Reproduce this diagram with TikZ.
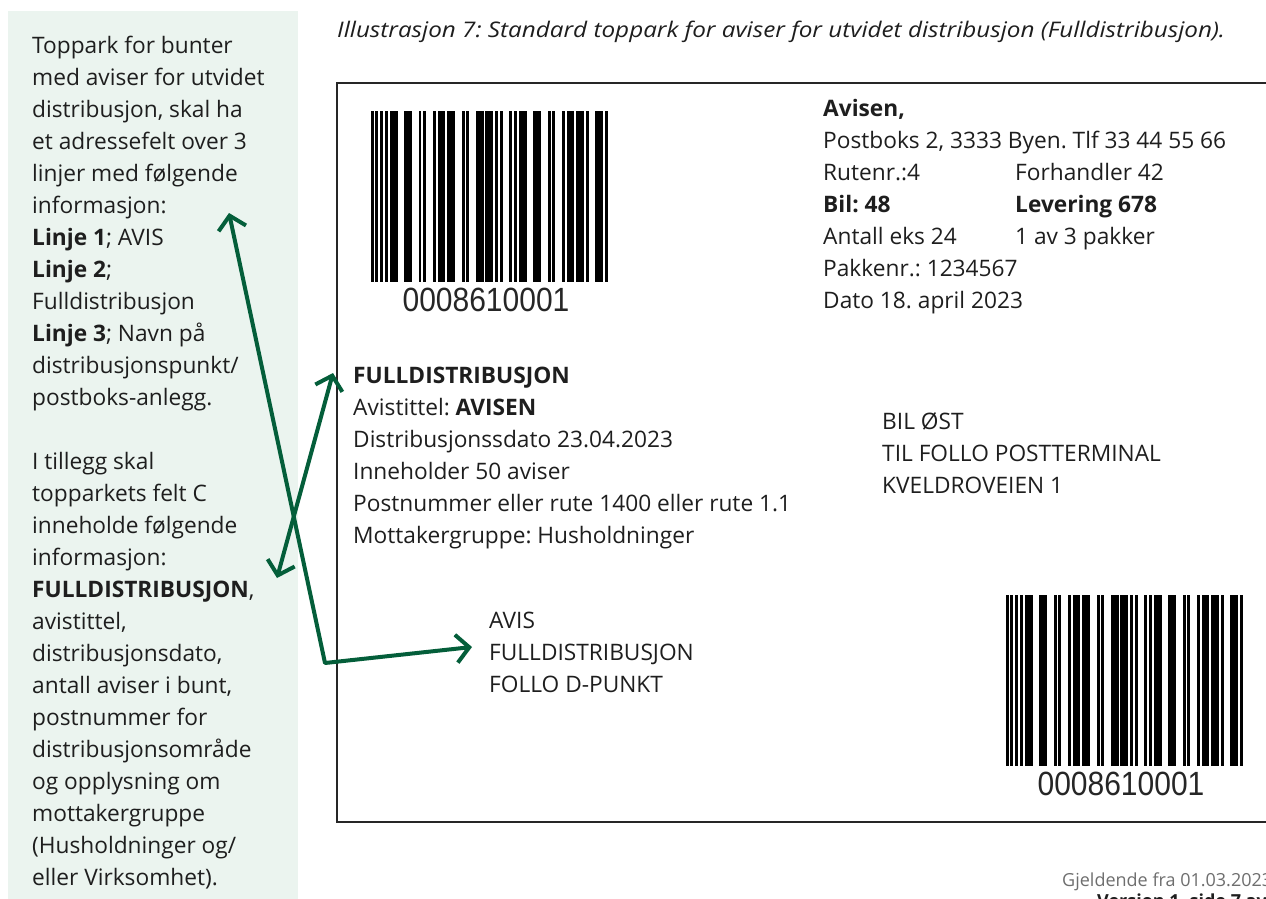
\documentclass[tikz,border=0pt]{standalone}
\usepackage{fontspec}
\setmainfont{Open Sans}
\newfontfamily\bcfont{Liberation Sans}
\usetikzlibrary{arrows.meta}
\definecolor{panelbg}{RGB}{235,244,239}
\definecolor{arrgreen}{RGB}{4,94,58}
\definecolor{ink}{RGB}{30,30,30}
\definecolor{footgray}{RGB}{110,110,110}
\newdimen\bcx
\newdimen\bcm
\bcm=2.39pt
\newlength\capw
% Interleaved 2 of 5 pattern for 0008610001 (bar, space, bar, ...)
\newcommand{\bcpattern}{1,1,1,1, 1,1,1,1,3,3,3,3,1,1, 1,3,1,1,3,1,3,3,1,1, 1,3,3,1,3,1,1,1,1,3, 1,1,1,1,3,3,3,3,1,1, 1,3,1,1,3,1,3,1,1,3, 3,1,1}
\newcommand{\drawbarcode}[3]{%
  \global\bcx=0pt
  \foreach \w [count=\i] in \bcpattern {%
    \ifodd\i
      \fill[black, xshift=\the\bcx] (#1-0.3,#2) rectangle ++(\w*2.39+0.6,#3);
    \fi
    \global\advance\bcx by \w\bcm
  }}
\tikzset{
  txt/.style={anchor=base west, inner sep=0pt, text=ink, font=\fontsize{22.7}{32}\selectfont},
  conn/.style={draw=arrgreen, line width=4pt, line join=round,
    {Straight Barb[length=13pt,width=28pt]}-{Straight Barb[length=13pt,width=28pt]}},
  digits/.style={inner sep=0pt, text=black!85, font=\bcfont\fontsize{30}{30}\selectfont},
}
\begin{document}
\frenchspacing
\settowidth\capw{\itshape\fontsize{21.5}{26}\selectfont Illustrasjon 7: Standard toppark for aviser for utvidet distribusjon (Fulldistribusjon).}
\pgfmathsetmacro\capsx{888/\capw}
\begin{tikzpicture}[x=1pt,y=-1pt]
\useasboundingbox (0,0) rectangle (1266,899);
\clip (0,0) rectangle (1266,899);
% left panel
\fill[panelbg] (8,11) rectangle (298,905);
\foreach \t [count=\i] in {Toppark for bunter, med aviser for utvidet, {distribusjon, skal ha}, et adressefelt over 3, linjer med følgende, informasjon:, {\textbf{Linje 1}; AVIS}, {\textbf{Linje 2};}, Fulldistribusjon, {\textbf{Linje 3}; Navn på}, distribusjonspunkt/, postboks-anlegg.}
  \node[txt] (P\i) at (32,{53+(\i-1)*32}) {\t};
\foreach \t [count=\i] in {I tillegg skal, topparkets felt C, inneholde følgende, informasjon:, {\textbf{FULLDISTRIBUSJON},}, {avistittel,}, {distribusjonsdato,}, {antall aviser i bunt,}, postnummer for, distribusjonsområde, og opplysning om, mottakergruppe, {(Husholdninger og/}, {eller Virksomhet).}}
  \node[txt] (Q\i) at (32,{469+(\i-1)*32}) {\t};
% caption
\node[anchor=base west, inner sep=0pt, text=ink] (cap) at (337,38)
  {\scalebox{\capsx}[1]{\itshape\fontsize{21.5}{26}\selectfont Illustrasjon 7: Standard toppark for aviser for utvidet distribusjon (Fulldistribusjon).}};
% label frame
\draw[line width=2pt, draw=black!85] (1275,83) -- (337,83) -- (337,822) -- (1275,822);
% barcodes
\drawbarcode{371}{111}{171}
\node[digits] (bc1) at (486,300) {\scalebox{1}[1.12]{0008610001}};
\drawbarcode{1006}{595}{171}
\node[digits] (bc2) at (1121,784) {\scalebox{1}[1.12]{0008610001}};
% sender block
\foreach \t [count=\i] in {{\textbf{Avisen,}}, {Postboks 2, 3333 Byen. Tlf 33 44 55 66}, Rutenr.:4, {\textbf{Bil: 48}}, Antall eks 24, Pakkenr.: 1234567, Dato 18. april 2023}
  \node[txt] (S\i) at (823,{116+(\i-1)*32}) {\t};
\node[txt] (T1) at (1015,180) {Forhandler 42};
\node[txt] (T2) at (1015,212) {\textbf{Levering 678}};
\node[txt] (T3) at (1015,244) {1 av 3 pakker};
% field C
\foreach \t [count=\i] in {{\textbf{FULLDISTRIBUSJON}}, {Avistittel: \textbf{AVISEN}}, Distribusjonssdato 23.04.2023, Inneholder 50 aviser, Postnummer eller rute 1400 eller rute 1.1, Mottakergruppe: Husholdninger}
  \node[txt] (C\i) at (353,{383+(\i-1)*32}) {\t};
% transport block
\foreach \t [count=\i] in {BIL ØST, TIL FOLLO POSTTERMINAL, KVELDROVEIEN 1}
  \node[txt] (B\i) at (882,{429+(\i-1)*32}) {\t};
% address block
\foreach \t [count=\i] in {AVIS, FULLDISTRIBUSJON, FOLLO D-PUNKT}
  \node[txt] (A\i) at (489,{628+(\i-1)*32}) {\t};
% footer
\node[anchor=base west, inner sep=0pt, text=footgray, font=\fontsize{18}{22}\selectfont] (f1) at (1062,886) {Gjeldende fra 01.03.2023};
\node[anchor=base west, inner sep=0pt, text=ink, font=\bfseries\fontsize{18}{22}\selectfont] (f2) at (1097,907) {Version 1, side 7 av};
% connectors
\coordinate (tipInfo) at (229,213);
\coordinate (bend) at (325,663);
\coordinate (tipAddr) at (472,647);
\coordinate (tipC) at (333,373);
\coordinate (tipFull) at (277,578);
\draw[conn] (tipInfo) -- (bend) -- (tipAddr);
\draw[conn] (tipC) -- (tipFull);
\end{tikzpicture}
\end{document}
